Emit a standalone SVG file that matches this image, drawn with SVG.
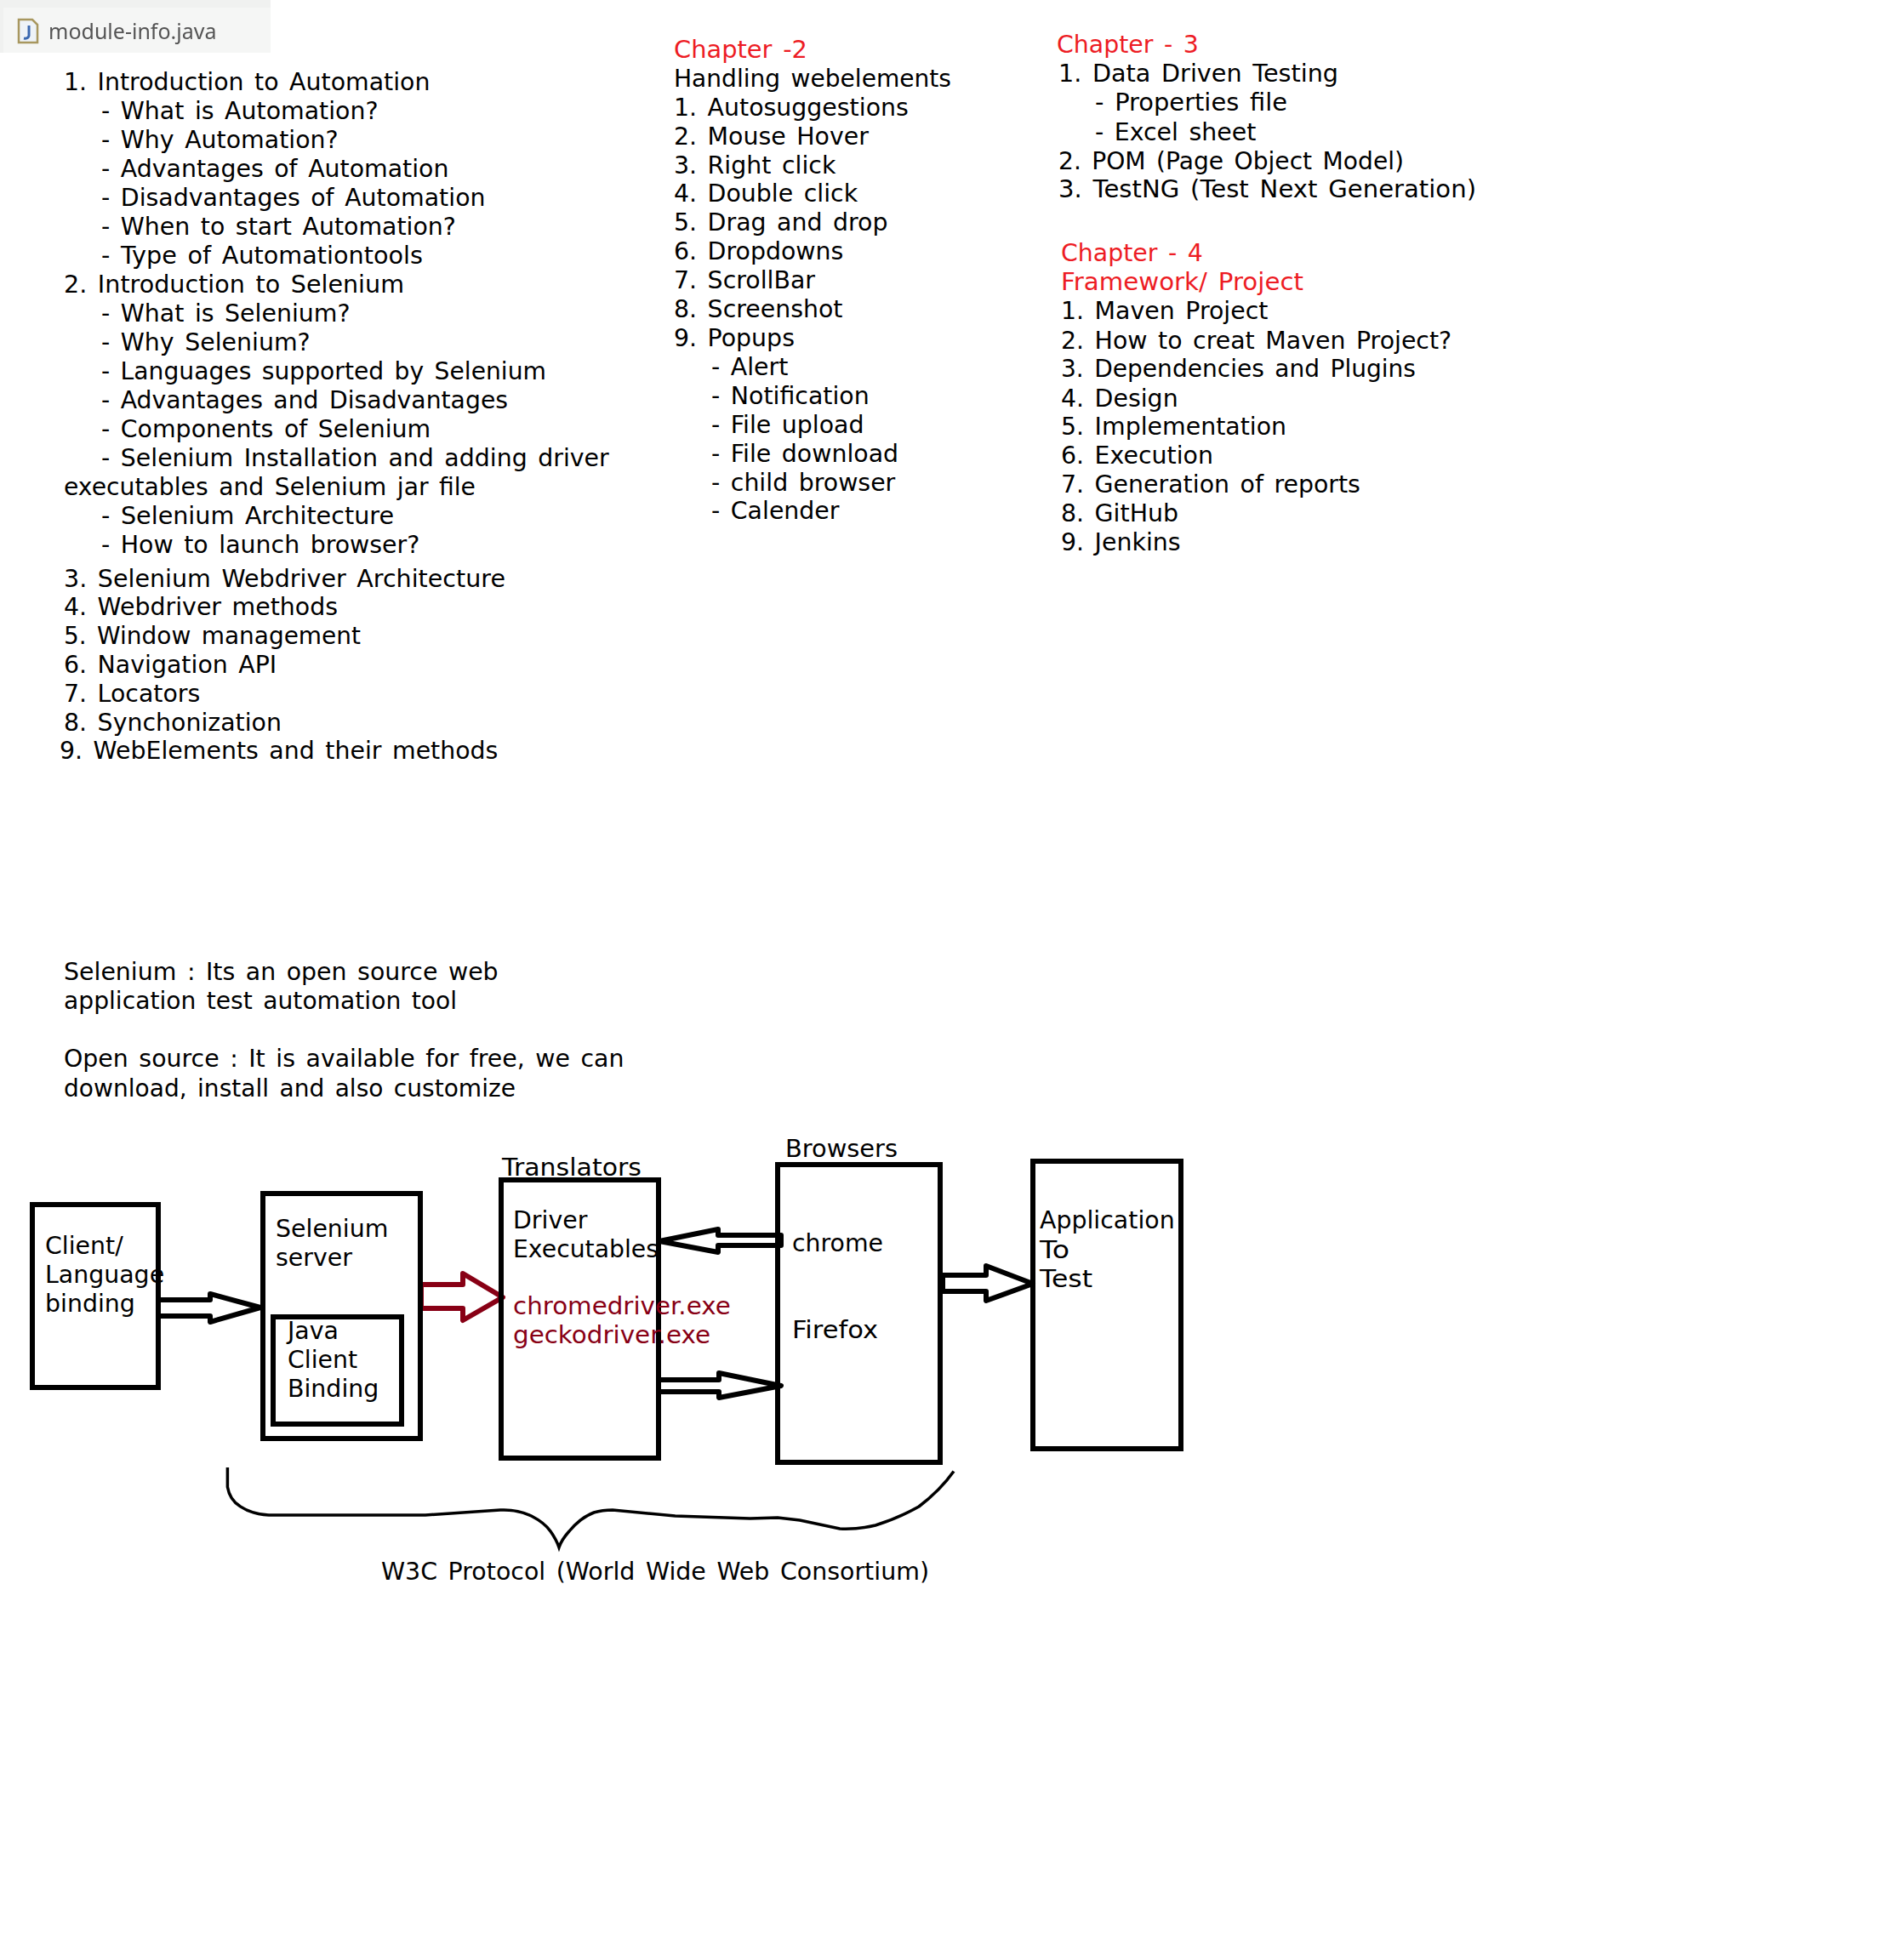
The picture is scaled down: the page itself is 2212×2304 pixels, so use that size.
<svg xmlns="http://www.w3.org/2000/svg" width="2212" height="2304" viewBox="0 0 2212 2304">
<style>
text{font-family:"DejaVu Sans","Liberation Sans",sans-serif;font-size:28.4px;word-spacing:3.5px;fill:#000}
.r{fill:#ed1c24}
.d{fill:#880015}
.box{fill:none;stroke:#000;stroke-width:6}
.arr{fill:none;stroke:#000;stroke-width:6;stroke-linejoin:round}
.arrd{fill:none;stroke:#880015;stroke-width:6;stroke-linejoin:round}
</style>
<defs><filter id="soft" x="-5%" y="-20%" width="110%" height="140%"><feGaussianBlur stdDeviation="0.5"/></filter></defs>
<rect width="2212" height="2304" fill="#fff"/>
<g id="tab">
<rect x="0" y="0" width="318" height="62" fill="#f0f1f0"/>
<rect x="4" y="9" width="314" height="53" fill="#f5f6f5"/>
<path d="M22 23H38L44 29V50H22Z" fill="#eef3f8" stroke="#a8975f" stroke-width="2.5"/>
<path d="M34 30V42Q33 46 28 45" fill="none" stroke="#3a68b0" stroke-width="3"/>
<text x="57" y="46" filter="url(#soft)" style="font-size:25px;word-spacing:0;fill:#555;font-family:'Noto Sans',sans-serif">module-info.java</text>
</g>
<g id="outline-chapter-1">
<text x="75" y="106">1. Introduction to Automation</text>
<text x="119" y="140">- What is Automation?</text>
<text x="119" y="174">- Why Automation?</text>
<text x="119" y="208">- Advantages of Automation</text>
<text x="119" y="242">- Disadvantages of Automation</text>
<text x="119" y="276">- When to start Automation?</text>
<text x="119" y="310" textLength="378" lengthAdjust="spacingAndGlyphs">- Type of Automationtools</text>
<text x="75" y="344" textLength="400" lengthAdjust="spacingAndGlyphs">2. Introduction to Selenium</text>
<text x="119" y="378">- What is Selenium?</text>
<text x="119" y="412">- Why Selenium?</text>
<text x="119" y="446" textLength="523" lengthAdjust="spacingAndGlyphs">- Languages supported by Selenium</text>
<text x="119" y="480" textLength="478" lengthAdjust="spacingAndGlyphs">- Advantages and Disadvantages</text>
<text x="119" y="514">- Components of Selenium</text>
<text x="119" y="548">- Selenium Installation and adding driver</text>
<text x="75" y="582" textLength="484" lengthAdjust="spacingAndGlyphs">executables and Selenium jar file</text>
<text x="119" y="616" textLength="344" lengthAdjust="spacingAndGlyphs">- Selenium Architecture</text>
<text x="119" y="650">- How to launch browser?</text>
<text x="75" y="689.5" textLength="519" lengthAdjust="spacingAndGlyphs">3. Selenium Webdriver Architecture</text>
<text x="75" y="723.3">4. Webdriver methods</text>
<text x="75" y="757.1" textLength="349" lengthAdjust="spacingAndGlyphs">5. Window management</text>
<text x="75" y="790.9">6. Navigation API</text>
<text x="75" y="824.7">7. Locators</text>
<text x="75" y="858.5">8. Synchonization</text>
<text x="70" y="892.3">9. WebElements and their methods</text>
</g>
<g id="outline-chapter-2">
<text class="r" x="792" y="67.5" textLength="157" lengthAdjust="spacingAndGlyphs">Chapter -2</text>
<text x="792" y="101.5" textLength="326" lengthAdjust="spacingAndGlyphs">Handling webelements</text>
<text x="792" y="135.5">1. Autosuggestions</text>
<text x="792" y="169.5">2. Mouse Hover</text>
<text x="792" y="203.5">3. Right click</text>
<text x="792" y="237">4. Double click</text>
<text x="792" y="271">5. Drag and drop</text>
<text x="792" y="305">6. Dropdowns</text>
<text x="792" y="339">7. ScrollBar</text>
<text x="792" y="373">8. Screenshot</text>
<text x="792" y="407">9. Popups</text>
<text x="836" y="441">- Alert</text>
<text x="836" y="475">- Notification</text>
<text x="836" y="509">- File upload</text>
<text x="836" y="543">- File download</text>
<text x="836" y="576.5">- child browser</text>
<text x="836" y="610">- Calender</text>
</g>
<g id="outline-chapter-3">
<text class="r" x="1242" y="62">Chapter - 3</text>
<text x="1244" y="96" textLength="329" lengthAdjust="spacingAndGlyphs">1. Data Driven Testing</text>
<text x="1287" y="130" textLength="226" lengthAdjust="spacingAndGlyphs">- Properties file</text>
<text x="1287" y="165">- Excel sheet</text>
<text x="1244" y="199" textLength="406" lengthAdjust="spacingAndGlyphs">2. POM (Page Object Model)</text>
<text x="1244" y="232" textLength="491" lengthAdjust="spacingAndGlyphs">3. TestNG (Test Next Generation)</text>
</g>
<g id="outline-chapter-4">
<text class="r" x="1247" y="307">Chapter - 4</text>
<text class="r" x="1247" y="341" textLength="285" lengthAdjust="spacingAndGlyphs">Framework/ Project</text>
<text x="1247" y="375">1. Maven Project</text>
<text x="1247" y="409.5">2. How to creat Maven Project?</text>
<text x="1247" y="443" textLength="417" lengthAdjust="spacingAndGlyphs">3. Dependencies and Plugins</text>
<text x="1247" y="477.5">4. Design</text>
<text x="1247" y="511">5. Implementation</text>
<text x="1247" y="545">6. Execution</text>
<text x="1247" y="579">7. Generation of reports</text>
<text x="1247" y="613">8. GitHub</text>
<text x="1247" y="647">9. Jenkins</text>
</g>
<g id="definitions">
<text x="75" y="1152">Selenium : Its an open source web</text>
<text x="75" y="1186" textLength="462" lengthAdjust="spacingAndGlyphs">application test automation tool</text>
<text x="75" y="1254">Open source : It is available for free, we can</text>
<text x="75" y="1289" textLength="531" lengthAdjust="spacingAndGlyphs">download, install and also customize</text>
</g>
<g id="connectors">
<path class="arr" d="M187 1528H247V1521L306 1537L247 1554V1547H187"/>
<path class="arrd" d="M495 1510H544V1497L591 1525L544 1552V1538H495Z"/>
<path class="arr" d="M918 1452H844V1445L775 1459L844 1472V1464H918Z"/>
<path class="arr" d="M774 1622H845V1614L918 1629L845 1643V1636H774"/>
<path class="arr" d="M1108 1499H1159V1488L1214 1509L1159 1529V1518H1108Z"/>
</g>
<g id="client">
<rect class="box" x="38" y="1416" width="148" height="215"/>
<text x="53" y="1474">Client/</text>
<text x="53" y="1508">Language</text>
<text x="53" y="1542">binding</text>
</g>
<g id="server">
<rect class="box" x="309" y="1403" width="185" height="288"/>
<text x="324" y="1454">Selenium</text>
<text x="324" y="1488">server</text>
</g>
<g id="java-client">
<rect class="box" x="321" y="1548" width="151" height="126"/>
<text x="338" y="1574">Java</text>
<text x="338" y="1608">Client</text>
<text x="338" y="1642">Binding</text>
</g>
<g id="translators">
<text x="590" y="1382" textLength="164" lengthAdjust="spacingAndGlyphs">Translators</text>
<rect class="box" x="589" y="1387" width="185" height="327"/>
<text x="603" y="1443.5">Driver</text>
<text x="603" y="1477.5" textLength="171" lengthAdjust="spacingAndGlyphs">Executables</text>
<text class="d" x="603" y="1545" textLength="255.7" lengthAdjust="spacingAndGlyphs">chromedriver.exe</text>
<text class="d" x="603" y="1579" textLength="232" lengthAdjust="spacingAndGlyphs">geckodriver.exe</text>
</g>
<g id="browsers">
<text x="923" y="1359.5" textLength="132" lengthAdjust="spacingAndGlyphs">Browsers</text>
<rect class="box" x="914" y="1369" width="191" height="350"/>
<text x="931" y="1471" textLength="107" lengthAdjust="spacingAndGlyphs">chrome</text>
<text x="931" y="1573" textLength="101" lengthAdjust="spacingAndGlyphs">Firefox</text>
</g>
<g id="application">
<rect class="box" x="1214" y="1365" width="174" height="338"/>
<text x="1222" y="1444">Application</text>
<text x="1222" y="1478.5" textLength="35" lengthAdjust="spacingAndGlyphs">To</text>
<text x="1222" y="1513" textLength="62" lengthAdjust="spacingAndGlyphs">Test</text>
</g>
<g id="protocol">
<path d="M267.4 1725V1748Q270 1763 282 1770.6Q296 1780 316 1781H500L588 1775Q608 1774 624.5 1782Q640 1790 647 1800Q654 1810 657 1819Q660 1810 669 1800Q682 1784 698 1778Q708 1775 720 1775L793.5 1782L881.6 1785L914 1784L940 1787L987 1797Q1008 1798 1029 1793Q1055 1785 1080 1771Q1105 1752 1121 1729.5" fill="none" stroke="#000" stroke-width="3.5"/>
<text x="448" y="1857" textLength="644" lengthAdjust="spacingAndGlyphs">W3C Protocol (World Wide Web Consortium)</text>
</g>
</svg>
